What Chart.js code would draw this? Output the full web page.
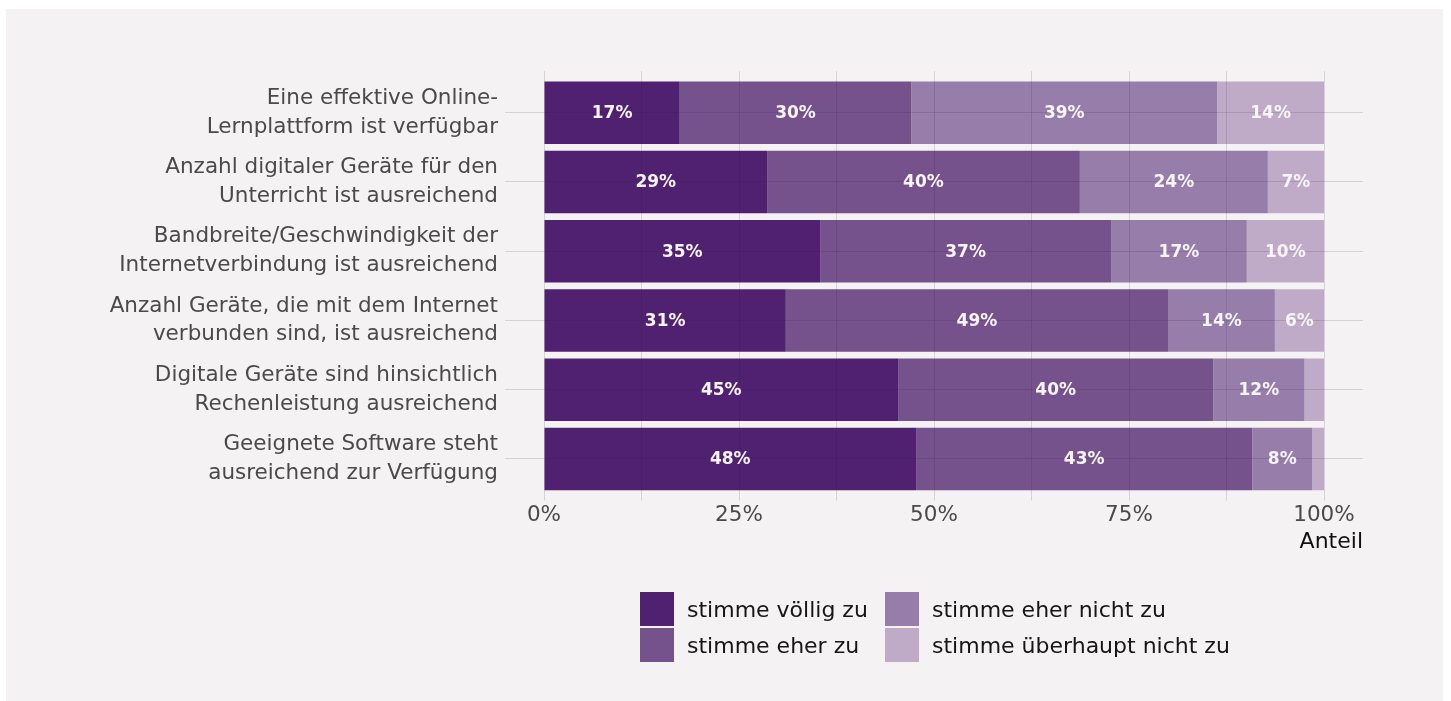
<!DOCTYPE html>
<html>
<head>
<meta charset="utf-8">
<script src="https://cdn.jsdelivr.net/npm/chart.js@4.4.1/dist/chart.umd.min.js"></script>
<style>
  html, body { margin: 0; padding: 0; background: #ffffff; width: 1451px; height: 701px; overflow: hidden; }
  #panel { position: absolute; left: 6px; top: 9px; width: 1437px; height: 692px; background: #f4f2f3; }
  #wrap { position: absolute; left: 0; top: 0; width: 1451px; height: 701px; }
  #legend { position: absolute; left: 640px; top: 592px; display: grid; grid-auto-flow: column;
            grid-template-rows: 34px 34px; grid-template-columns: 245px auto; row-gap: 2px;
            font-family: "DejaVu Sans", sans-serif; font-size: 22px; color: #161616; }
  .item { display: flex; align-items: center; height: 34px; }
  .sw { width: 34px; height: 34px; margin-right: 13px; flex: none; }
</style>
</head>
<body>
<div id="panel"></div>
<div id="wrap"><canvas id="c" width="1451" height="701"></canvas></div>
<div id="legend"></div>
<script>
// ---- data ----
const categories = [
  ["Eine effektive Online-", "Lernplattform ist verfügbar"],
  ["Anzahl digitaler Geräte für den", "Unterricht ist ausreichend"],
  ["Bandbreite/Geschwindigkeit der", "Internetverbindung ist ausreichend"],
  ["Anzahl Geräte, die mit dem Internet", "verbunden sind, ist ausreichend"],
  ["Digitale Geräte sind hinsichtlich", "Rechenleistung ausreichend"],
  ["Geeignete Software steht", "ausreichend zur Verfügung"]
];
const seriesNames = ["stimme völlig zu", "stimme eher zu", "stimme eher nicht zu", "stimme überhaupt nicht zu"];
const voelligZu = [17.4, 28.6, 35.4, 31.0, 45.4, 47.7];
const eherZu = [29.7, 40.1, 37.3, 49.0, 40.4, 43.1];
const eherNichtZu = [39.2, 24.1, 17.4, 13.7, 11.7, 7.7];
const ueberhauptNichtZu = [13.7, 7.2, 9.9, 6.3, 2.5, 1.5];
const xTickValues = [0, 12.5, 25, 37.5, 50, 62.5, 75, 87.5, 100];
const xTickLabels = ["0%", "", "25%", "", "50%", "", "75%", "", "100%"];
const axisTitle = "Anteil";

const colors = ["#4f2170", "#76528c", "#977da9", "#bfabc8"];
const FONT = "'DejaVu Sans', sans-serif";
const gridColor = "rgba(40,20,50,0.14)";

const seriesValues = [voelligZu, eherZu, eherNichtZu, ueberhauptNichtZu];

const valueLabels = {
  id: 'valueLabels',
  afterDraw(chart) {
    const ctx = chart.ctx;
    ctx.save();
    ctx.font = "bold 17px " + FONT;
    ctx.fillStyle = "#f8f4f9";
    ctx.textAlign = "center";
    ctx.textBaseline = "middle";
    chart.data.datasets.forEach((ds, di) => {
      const meta = chart.getDatasetMeta(di);
      meta.data.forEach((bar, i) => {
        const v = ds.data[i];
        if (v < 4) return;
        const cx = (bar.x + bar.base) / 2;
        ctx.fillText(Math.round(v) + "%", cx, bar.y + 1);
      });
    });
    ctx.restore();
  }
};

const setTicks = (scale) => { scale.ticks = xTickValues.map(v => ({ value: v })); };

const chart = new Chart(document.getElementById('c'), {
  type: 'bar',
  data: {
    labels: categories,
    datasets: seriesValues.map((vals, k) => ({
      label: seriesNames[k],
      data: vals,
      backgroundColor: colors[k],
      borderWidth: 0,
      categoryPercentage: 1,
      barPercentage: 0.905
    }))
  },
  options: {
    indexAxis: 'y',
    responsive: false,
    animation: false,
    layout: { padding: { left: 0, right: 88, top: 0, bottom: 145.4 } },
    plugins: { legend: { display: false }, tooltip: { enabled: false } },
    scales: {
      x: {
        stacked: true, min: 0, max: 105, position: 'bottom',
        afterBuildTicks: setTicks,
        afterFit: (s) => { s.height = 62; },
        grid: { color: gridColor, z: 1, tickLength: 7, drawTicks: true },
        border: { display: false },
        ticks: {
          padding: 2,
          color: "#4a4a4a",
          font: { family: FONT, size: 21.5, lineHeight: 1.2 },
          callback: (v, i) => xTickLabels[i]
        },
        title: {
          display: true, text: axisTitle, align: 'end', color: "#111111",
          font: { family: FONT, size: 22, lineHeight: 1.2 }, padding: { top: 0, bottom: 0 }
        }
      },
      x2: {
        stacked: true, min: 0, max: 105, position: 'top', axis: 'x',
        afterBuildTicks: setTicks,
        afterFit: (s) => { s.height = 78.1; },
        grid: { color: gridColor, drawOnChartArea: false, tickLength: 7, drawTicks: true },
        border: { display: false },
        ticks: { display: false }
      },
      y: {
        stacked: true,
        afterFit: (s) => { s.width = 544; },
        grid: { color: gridColor, z: 1, offset: false, tickLength: 39, drawTicks: true },
        border: { display: false },
        ticks: {
          padding: 7,
          color: "#4a4a4a",
          font: { family: FONT, size: 21.5, lineHeight: 1.34 }
        }
      }
    }
  },
  plugins: [valueLabels]
});

// HTML legend built from the chart's datasets
const legendEl = document.getElementById('legend');
chart.data.datasets.forEach(ds => {
  const item = document.createElement('div');
  item.className = 'item';
  const sw = document.createElement('span');
  sw.className = 'sw';
  sw.style.background = ds.backgroundColor;
  const tx = document.createElement('span');
  tx.textContent = ds.label;
  item.appendChild(sw);
  item.appendChild(tx);
  legendEl.appendChild(item);
});
</script>
</body>
</html>
